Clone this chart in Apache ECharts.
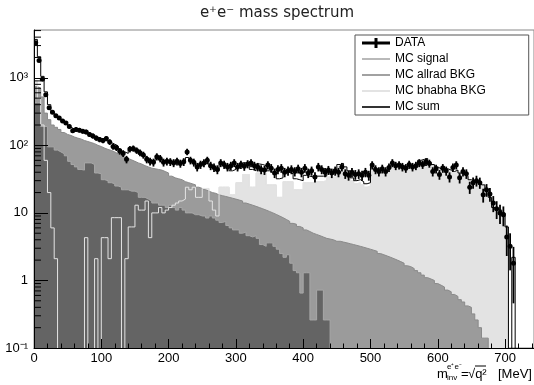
<!DOCTYPE html>
<html lang="en">
<head>
<meta charset="UTF-8">
<title>e+e- mass spectrum</title>
<script src="https://cdn.jsdelivr.net/npm/echarts@6/dist/echarts.min.js"></script>
<style>
  html, body { margin: 0; padding: 0; background: #fff; }
  #chart { width: 534px; height: 385px; }
</style>
</head>
<body>
<div id="chart"></div>
<script>
// binning of all histograms, MeV
const binWidth = 5;
const nBins = 144;

// bin contents (bin i = [5i, 5i+5) MeV), missing tail = empty
const dataCounts = [3300,1800,950,560,360,310,275,255,230,215,
  190,165,172,168,162,158,145,138,128,122,
  118,126,112,96,92,82,76,62,88,90,
  84,78,72,62,58,56,68,64,56,58,
  57,55,58,54,57,80,60,56,48,52,
  55,60,50,47,44,55,52,48,50,55,
  48,52,49,53,55,50,48,44,43,51,
  46,39,44,46,40,42,44,41,45,40,
  46,39,42,34,48,44,40,43,39,42,
  40,48,38,36,40,37,38,36,40,36,
  51,44,41,45,41,47,55,50,51,48,
  46,52,48,50,55,52,57,54,41,45,
  37,46,42,34,47,51,33,41,38,24,
  28,30,28,18.5,22,19,14,11.5,10,9.4,
  4.4,3.2,1.8];

const mcSignal = [430,430,190,190,95,95,85,80,75,70,
  58,52,48,44,43,55,55,52,39,38,
  31,30,28,27,25,24,22,22,21,21,
  20,17,17,16,15,14,14,13,13,12,
  13,12,11,12,11,10,10,9.4,9.4,9,
  9,8.4,9,8.4,7.8,7.2,7.5,6.5,6,5.6,
  5.6,5,5.2,4.6,4.4,4.6,4.2,3.4,3.2,3.6,
  3.6,3.2,2.9,2.5,2.2,2.4,1.8,1.4,1.3,0.65,
  1.3,1.3,0.26,0.26,0.72,0.72,0.26,0.26];

const mcAllrad = [740,700,520,300,240,200,185,172,155,145,
  140,133,128,124,118,114,110,106,100,96,
  91,87,84,80,75,71,67,64,61,58,
  55,53,50,48,46,45,44,43,41,39,
  35,33,32,31,29,28,27,26,24,23,
  22,21,20,19.5,18.5,18,17.5,17,16.5,16,
  15.5,15,14,13.5,13,12.5,12,11.5,11,10.5,
  10,9.5,9,8.5,8,7.5,7,6.8,6.3,6,
  5.6,5.3,5,4.8,4.6,4.4,4.2,4.1,4,3.8,
  3.8,3.7,3.6,3.5,3.4,3.3,3.2,3.1,3.0,2.9,
  2.8,2.7,2.5,2.4,2.3,2.2,2.1,2.0,1.9,1.8,
  1.65,1.6,1.5,1.4,1.3,1.2,1.1,1.05,1.0,0.9,
  0.85,0.8,0.72,0.68,0.62,0.58,0.52,0.48,0.42,0.4,
  0.32,0.26,0.2,0.14,0.14];

const mcBhabha = [900,500,200,60,20,6,2.1,0,0,0,
  0,0,0,0,0,4.3,0,0,2.1,0,
  4.3,4.3,2.1,8.5,8.5,8.5,0,2.1,6.2,6.2,
  13,11,11,15,4.3,10,10,12,10,11,
  12,13,14,15,16,24,22,24,17,17,
  23,23,15,11,9,24,24,24,18.5,18.5,
  28,28,37,37,24,24,39,39,39,26,
  26,26,17,17,29,29,29,22,22,22,
  28,28,28,29,29,29,30,34,34,34,
  48,50,45,40,30,27,28,26,24,25,
  45,42,38,40,38,42,48,47,50,48,
  46,50,47,50,58,60,62,55,50,46,
  44,48,44,42,40,42,38,36,34,30,
  28,29,27,25,20,16,12,11,11,10,
  5];

const mcSum = [3700,2050,1050,620,400,300,275,250,225,205,
  185,175,170,165,160,165,150,140,130,125,
  118,120,110,104,98,88,80,76,86,84,
  82,76,70,66,60,58,64,62,58,60,
  56,56,57,55,57,66,60,57,50,52,
  54,55,48,46,42,52,50,48,42,44,
  50,49,55,53,44,42,53,52,50,42,
  40,38,32,33,41,40,38,32,31,30,
  36,35,34,35,35,35,35,40,39,39,
  52,54,48,42,33,30,31,29,27,28,
  48,45,40,43,41,45,51,49,52,50,
  48,52,49,52,60,62,64,57,52,48,
  45,49,45,43,41,43,39,37,35,31,
  29,30,28,26,21,17,12,11,11,10,
  6.2,0,2.2];

const EMPTY = 1e-3; // empty bins are drawn below the axis and clipped

// histogram -> step points [low edge, content]
function steps(values) {
  const pts = [];
  for (let i = 0; i < nBins; i++) {
    const v = values[i] > 0 ? values[i] : EMPTY;
    pts.push([i * binWidth, v]);
  }
  pts.push([nBins * binWidth, EMPTY]);
  return pts;
}

function histSeries(name, values, fill, line, z) {
  const s = {
    name: name,
    type: 'line',
    step: 'end',
    data: steps(values),
    z: z,
    symbol: 'none',
    silent: true,
    lineStyle: {color: line, width: 1},
    itemStyle: {color: line}
  };
  if (fill) s.areaStyle = {color: fill, opacity: 1, origin: 'start'};
  return s;
}

// minor ticks of the log axis (2..9 x 10^n)
const minorTicks = [];
for (let n = -1; n <= 3; n++) {
  for (let k = 2; k <= 9; k++) {
    if (k * Math.pow(10, n) < 5100) minorTicks.push([0, k * Math.pow(10, n)]);
  }
}

const superLabels = {'-1': '10⁻¹', '0': '1', '1': '10', '2': '10²', '3': '10³'};

const lineIcon = 'path://M0,0 M28,10 M0,4.2 L28,4.2 L28,5.8 L0,5.8 Z';
const dataIcon = 'path://M0,3.5 L28,3.5 L28,6.5 L0,6.5 Z M12.5,0 L15.5,0 L15.5,10 L12.5,10 Z';

const chart = echarts.init(document.getElementById('chart'));
chart.setOption({
  animation: false,
  textStyle: {fontFamily: 'Liberation Sans'},
  grid: {left: 34, right: -1, top: 30, bottom: 37, show: true, borderColor: '#888', borderWidth: 1},
  legend: {
    orient: 'vertical', left: 355, top: 35,
    backgroundColor: '#fff', borderColor: '#555', borderWidth: 1,
    padding: [1, 43, 1, 7], itemGap: 2, itemWidth: 28, itemHeight: 10, itemTextGap: 10,
    selectedMode: false,
    textStyle: {fontSize: 12, color: '#000', lineHeight: 14},
    data: [
      {name: 'DATA', icon: dataIcon, itemStyle: {color: '#000', borderWidth: 0}},
      {name: 'MC signal', icon: lineIcon, itemStyle: {color: '#a8a8a8', borderWidth: 0}},
      {name: 'MC allrad BKG', icon: lineIcon, itemStyle: {color: '#8a8a8a', borderWidth: 0}},
      {name: 'MC bhabha BKG', icon: lineIcon, itemStyle: {color: '#dcdcdc', borderWidth: 0}},
      {name: 'MC sum', icon: lineIcon, itemStyle: {color: '#000', borderWidth: 0}}
    ]
  },
  xAxis: {
    type: 'value', min: 0, max: 743, interval: 100, z: 10,
    axisLine: {lineStyle: {color: '#000', width: 1}},
    axisTick: {inside: true, length: 9, lineStyle: {color: '#000'}},
    minorTick: {show: true, splitNumber: 5, length: 4.5, lineStyle: {color: '#000'}},
    axisLabel: {fontSize: 13, color: '#000', margin: 4, showMaxLabel: false},
    splitLine: {show: false}
  },
  yAxis: {
    type: 'log', logBase: 10, min: 0.1, max: 5100, z: 10,
    axisLine: {lineStyle: {color: '#000', width: 1}},
    axisTick: {inside: true, length: 14, lineStyle: {color: '#000'}},
    axisLabel: {
      fontSize: 13, color: '#000', margin: 6, showMaxLabel: false,
      formatter: function (v) { return superLabels[Math.round(Math.log10(v))] || ''; }
    },
    splitLine: {show: false}
  },
  graphic: [
    {type: 'text', x: 277, y: 13, style: {text: 'e⁺e⁻ mass spectrum', fontSize: 15, fill: '#222',
      fontFamily: 'DejaVu Sans', textAlign: 'center', textVerticalAlign: 'middle'}},
    {type: 'text', x: 437, y: 374, style: {text: 'm', fontSize: 13, fill: '#000', textVerticalAlign: 'middle'}},
    {type: 'text', x: 447, y: 367, style: {text: 'e⁺e⁻', fontSize: 8, fill: '#000', textVerticalAlign: 'middle'}},
    {type: 'text', x: 447, y: 378, style: {text: 'inv', fontSize: 8, fill: '#000', textVerticalAlign: 'middle'}},
    {type: 'text', x: 461, y: 374, style: {text: '=', fontSize: 13, fill: '#000', textVerticalAlign: 'middle'}},
    {type: 'text', x: 468, y: 374, style: {text: '√q²', fontSize: 13, fill: '#000', textVerticalAlign: 'middle'}},
    {type: 'line', shape: {x1: 475, y1: 366, x2: 486, y2: 366}, style: {stroke: '#000', lineWidth: 1}},
    {type: 'text', x: 498, y: 374, style: {text: '[MeV]', fontSize: 13, fill: '#000', textVerticalAlign: 'middle'}}
  ],
  series: [
    histSeries('MC bhabha BKG', mcBhabha, '#e3e3e3', '#dcdcdc', 1),
    histSeries('MC allrad BKG', mcAllrad, '#9b9b9b', '#8a8a8a', 2),
    histSeries('MC signal', mcSignal, '#646464', '#a8a8a8', 3),
    histSeries('MC bhabha BKG', mcBhabha, null, '#e4e4e4', 4),
    histSeries('MC sum', mcSum, null, '#000', 5),
    {
      name: 'DATA', type: 'custom', z: 6, clip: true, silent: true,
      data: dataCounts.map((v, i) => [i * binWidth + binWidth / 2, v]).filter(d => d[1] > 0),
      renderItem: function (params, api) {
        const x = api.value(0), v = api.value(1), err = Math.sqrt(v);
        const c = api.coord([x, v]);
        const hi = api.coord([x, v + err]);
        const lo = api.coord([x, Math.max(v - err, EMPTY)]);
        const l = api.coord([x - binWidth / 2, v]);
        const r = api.coord([x + binWidth / 2, v]);
        return {type: 'group', children: [
          {type: 'line', shape: {x1: c[0], y1: hi[1], x2: c[0], y2: lo[1]}, style: {stroke: '#000', lineWidth: 1.8}},
          {type: 'line', shape: {x1: l[0], y1: c[1], x2: r[0], y2: c[1]}, style: {stroke: '#000', lineWidth: 1.8}},
          {type: 'circle', shape: {cx: c[0], cy: c[1], r: 2.5}, style: {fill: '#000'}}
        ]};
      }
    },
    {
      name: 'ticks', type: 'custom', z: 11, silent: true,
      data: minorTicks,
      renderItem: function (params, api) {
        const p = api.coord([api.value(0), api.value(1)]);
        return {type: 'line', shape: {x1: p[0], y1: p[1], x2: p[0] + 7, y2: p[1]}, style: {stroke: '#000', lineWidth: 1}};
      }
    }
  ]
});
</script>
</body>
</html>
